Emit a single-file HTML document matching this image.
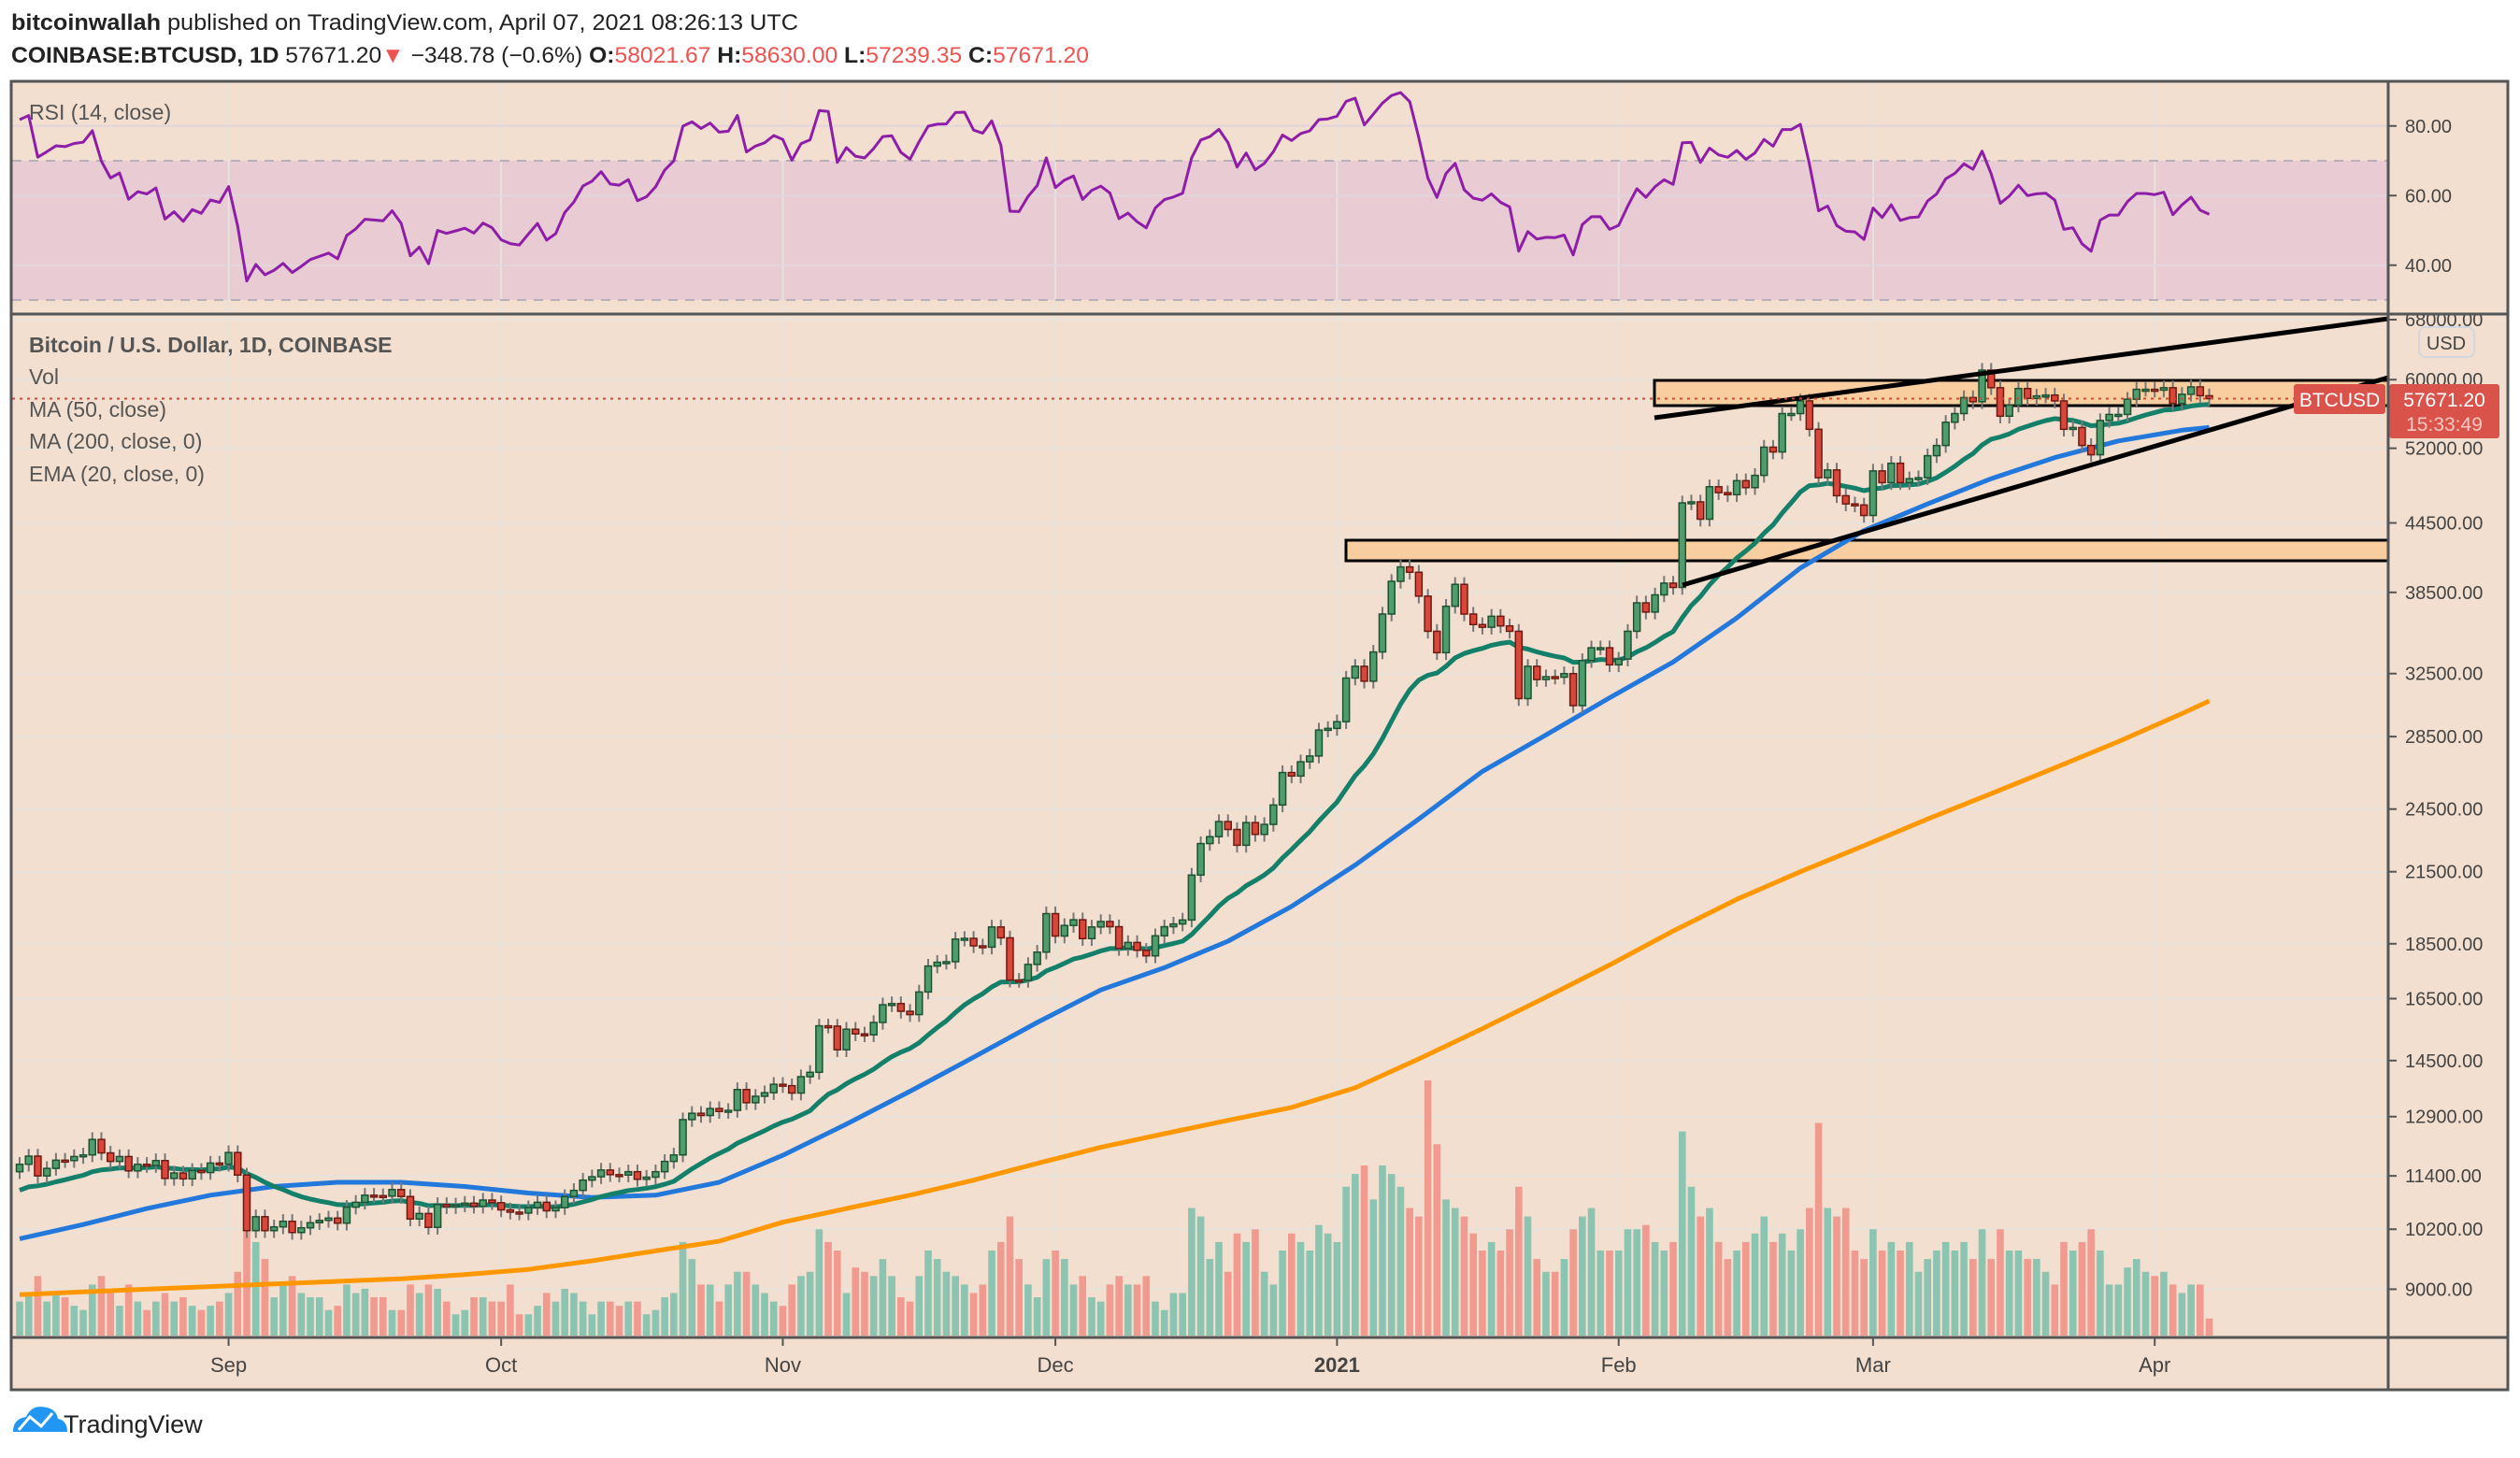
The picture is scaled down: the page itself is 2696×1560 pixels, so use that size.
<!DOCTYPE html>
<html><head><meta charset="utf-8"><style>
html,body{margin:0;padding:0;background:#fff;}
svg{display:block;font-family:"Liberation Sans",sans-serif;}
</style></head><body>
<svg id="chart" width="2696" height="1560" viewBox="0 0 2696 1560" xmlns="http://www.w3.org/2000/svg">
<rect x="0" y="0" width="2696" height="1560" fill="#ffffff"/>
<text x="12" y="32" font-size="24" fill="#222" textLength="842" lengthAdjust="spacingAndGlyphs"><tspan font-weight="bold">bitcoinwallah</tspan> published on TradingView.com, April 07, 2021 08:26:13 UTC</text>
<text x="12" y="67" font-size="24" fill="#222" textLength="1153" lengthAdjust="spacingAndGlyphs"><tspan font-weight="bold">COINBASE:BTCUSD, 1D</tspan> 57671.20<tspan fill="#ef5350">▼</tspan> −348.78 (−0.6%) <tspan font-weight="bold">O:</tspan><tspan fill="#ef5350">58021.67</tspan> <tspan font-weight="bold">H:</tspan><tspan fill="#ef5350">58630.00</tspan> <tspan font-weight="bold">L:</tspan><tspan fill="#ef5350">57239.35</tspan> <tspan font-weight="bold">C:</tspan><tspan fill="#ef5350">57671.20</tspan></text>
<rect x="12" y="87" width="2671" height="1400" fill="#f2dfcf"/>
<rect x="12" y="172" width="2543" height="149" fill="#e8cbd3"/>
<g id="grid"></g>
<g id="zones"></g>
<g id="vol"></g>
<g id="lines"></g>
<g id="candles"></g>
<g id="overlays"></g>
<g id="axes"></g>
<rect x="12" y="87" width="2671" height="1400" fill="none" stroke="#555" stroke-width="3"/>
<line x1="12" y1="336" x2="2683" y2="336" stroke="#555" stroke-width="3"/>
<line x1="2555" y1="87" x2="2555" y2="1487" stroke="#555" stroke-width="3"/>
<line x1="12" y1="1431" x2="2683" y2="1431" stroke="#555" stroke-width="3"/>
<text x="31" y="128" font-size="23" fill="#555">RSI (14, close)</text>
<text x="31" y="377" font-size="23" font-weight="bold" fill="#555">Bitcoin / U.S. Dollar, 1D, COINBASE</text>
<text x="31" y="411" font-size="23" fill="#555">Vol</text>
<text x="31" y="446" font-size="23" fill="#555">MA (50, close)</text>
<text x="31" y="480" font-size="23" fill="#555">MA (200, close, 0)</text>
<text x="31" y="515" font-size="23" fill="#555">EMA (20, close, 0)</text>
<g>
<path d="M14 1532 q0-14 14-16 q6-14 22-10 q10 2 12 12 q10 2 10 14 z" fill="#2196f3"/>
<polyline points="20,1530 32,1516 44,1526 56,1512" fill="none" stroke="#fff" stroke-width="3"/>
<text x="68" y="1533" font-size="27" fill="#222">TradingView</text>
</g>
</svg>
<script>
const closeAug=[11680,11880,11400,11580,11780,11770,11870,11910,12300,11960,11750,11870,11520,11680,11650,11770,11340,11470,11330,11530,11480,11710,11680];
const closeSep=[11970,11420,10170,10470,10170,10250,10370,10130,10230,10340,10390,10440,10330,10680,10790,10950,10940,10930,11080,10920,10420,10540,10240,10740,10690,10730,10770,10700,10840,10780];
const closeOct=[10620,10570,10550,10670,10790,10600,10670,10920,11060,11300,11380,11540,11430,11420,11500,11320,11370,11500,11750,11910,12820,12990,12930,13120,13040,13070,13650,13280,13460,13560,13800];
const closeNov=[13760,13550,14020,14150,15590,15580,14830,15480,15330,15300,15700,16290,16330,16070,15960,16730,17660,17800,17820,18680,18710,18420,18370,19160,18730,17150,17140,17720,18180,19700];
const closeDec=[18800,19220,19450,18700,19160,19380,19170,18320,18550,18250,18040,18810,19170,19280,19440,21350,22800,23130,23870,23480,22720,23820,23240,23730,24710,26440,26250,27040,27370,28890,28990];
const closeJan=[29400,32200,33000,31990,34000,36800,39400,40600,40150,38200,35500,33950,37400,39150,36800,36000,35800,36630,35900,35500,30850,33000,32100,32290,32260,32500,30400,33400,34300,34300,33100];
const closeFeb=[33500,35500,37670,36950,38300,39250,38900,46400,46500,44850,47990,47400,47200,48600,47900,49140,52120,51600,55900,55900,57400,54100,48900,49700,47100,46300,46200,45200];
const closeMar=[49600,48400,50400,48400,48800,48900,51200,52300,54900,55900,57800,57300,61200,59000,55600,56900,58900,57700,58000,58100,57400,54100,54300,52300,51300,55100,55800,55800,57600,58800,58800];
const closeApr=[58700,59000,57100,58200,59100,58020,57671];
const volAug=[8,10,14,8,10,9,7,6,12,14,10,7,12,8,6,8,10,8,9,7,6,7,8];
const volSep=[10,15,28,22,18,9,12,14,10,9,9,6,7,12,10,11,9,9,6,6,12,10,12,11,8,5,6,9,9,8];
const volOct=[8,12,5,5,7,10,8,11,10,8,5,8,8,7,8,8,5,6,9,10,22,18,12,12,8,12,15,15,12,10,8];
const volNov=[7,12,14,15,25,22,20,10,16,15,14,18,14,9,8,14,20,18,15,14,12,10,12,20,22,28,18,12,9,18];
const volDec=[20,18,12,14,9,8,12,14,12,12,14,8,6,10,10,30,28,18,22,15,24,22,25,15,12,20,24,22,20,26,24];
const volJan=[22,35,38,40,32,40,38,35,30,28,60,45,32,30,28,24,20,22,20,25,35,28,18,15,15,18,25,28,30,20,20];
const volFeb=[20,25,25,26,22,20,22,48,35,28,30,22,18,20,22,24,28,22,24,20,25,30,50,30,28,30,20,18];
const volMar=[25,20,22,20,22,15,18,20,22,20,22,18,25,18,25,20,20,18,18,15,12,22,20,22,25,20,12,12,16,18,15];
const volApr=[14,15,12,10,12,12,4];
// weekly samples (every 7 days from Aug 9), last = Apr 7
const ma50Samples=[10000,10300,10650,10950,11150,11250,11250,11150,11000,10900,10950,11250,11900,12700,13600,14600,15700,16800,17600,18600,20000,21800,24000,26500,28600,30900,33300,36500,40500,43800,46300,48800,51000,52800,54000,54300];
const ma200Samples=[8900,8950,9000,9050,9100,9150,9200,9280,9380,9550,9750,9950,10350,10650,10950,11300,11700,12100,12450,12800,13150,13700,14550,15500,16550,17700,19000,20300,21500,22700,24000,25300,26700,28200,29900,30700];
const priceTicks=[68000,60000,52000,44500,38500,32500,28500,24500,21500,18500,16500,14500,12900,11400,10200,9000];
const rsiTicks=[80,60,40];
const monthLabels=["Sep","Oct","Nov","Dec","2021","Feb","Mar","Apr"];
const monthIdx=[23,53,84,114,145,176,204,235];
const emaSeed=11000, firstOpen=11500;

const closes=[].concat(closeAug,closeSep,closeOct,closeNov,closeDec,closeJan,closeFeb,closeMar,closeApr);
const vols=[].concat(volAug,volSep,volOct,volNov,volDec,volJan,volFeb,volMar,volApr);
const NS="http://www.w3.org/2000/svg";
const X0=21, DX=9.72;
const xOf=i=>X0+i*DX;
const yP=p=>342+513*Math.log(68000/p);
const yR=v=>172+(70-v)*3.725;
const yV=v=>1429-v*4.55;
function mk(tag,attrs,parent){const e=document.createElementNS(NS,tag);for(const k in attrs)e.setAttribute(k,attrs[k]);parent.appendChild(e);return e;}
const G=id=>document.getElementById(id);

const grid=G('grid');
monthIdx.forEach(i=>{
 const l=mk('line',{x1:xOf(i),y1:88,x2:xOf(i),y2:1430,stroke:'#e8e2dc','stroke-width':2},grid);
 
 
});
priceTicks.forEach(p=>{
 const l=mk('line',{x1:13,y1:yP(p),x2:2555,y2:yP(p),stroke:'#e8e2dc','stroke-width':2},grid);
 
 
});
rsiTicks.forEach(v=>{
 const l=mk('line',{x1:13,y1:yR(v),x2:2555,y2:yR(v),stroke:'#e2d6dc','stroke-width':2},grid);
 
 
});
[70,30].forEach(v=>{
 const l=mk('line',{x1:13,y1:yR(v),x2:2555,y2:yR(v),stroke:'#b8b0b8','stroke-width':2,'stroke-dasharray':'10 8'},grid);
 
 
});

const zg=G('zones');
const zu=mk('rect',{x:1770,y:407,width:785,height:27,fill:'#f8cd9f',stroke:'#000','stroke-width':3},zg);


const zl=mk('rect',{x:1440,y:578,width:1115,height:22,fill:'#f8cd9f',stroke:'#000','stroke-width':3},zg);



const opens=closes.map((c,i)=>i===0?firstOpen:closes[i-1]);
const vg=G('vol');
vols.forEach((v,i)=>{
 const up=closes[i]>=opens[i];
 const r=mk('rect',{x:xOf(i)-3.8,y:yV(v),width:7.6,height:1429-yV(v),fill:up?'#8cc4b2':'#f19a90'},vg);
 
 
});

const lg=G('lines');
function poly(pts,color,w,name){const p=mk('polyline',{points:pts.map(q=>q[0].toFixed(1)+','+q[1].toFixed(1)).join(' '),fill:'none',stroke:color,'stroke-width':w,'stroke-linejoin':'round'},lg);
 
 }
const sampleIdx=a=>a.map((v,k)=>k===a.length-1?closes.length-1:k*7);
const ma200Idx=sampleIdx(ma200Samples);
poly(ma200Samples.map((v,k)=>[xOf(ma200Idx[k]),yP(v)]),'#ff9800',5,'ma200-line');
const ma50Idx=sampleIdx(ma50Samples);
poly(ma50Samples.map((v,k)=>[xOf(ma50Idx[k]),yP(v)]),'#2378db',5,'ma50-line');
let ema=emaSeed;const emaPts=[];const a=2/21;
closes.forEach((c,i)=>{ema=ema+a*(c-ema);emaPts.push([xOf(i),yP(ema)]);});
poly(emaPts,'#15806a',5,'ema20-line');
let ag=0,al=0;const rsiPts=[];
closes.forEach((c,i)=>{
 const d=c-opens[i];const g=Math.max(d,0),l=Math.max(-d,0);
 if(i===0){ag=g||60;al=l||40;}else{ag=(ag*13+g)/14;al=(al*13+l)/14;}
 const r=al===0?100:100-100/(1+ag/al);
 rsiPts.push([xOf(i),yR(r)]);
});
poly(rsiPts,'#8e1ea8',3,'rsi-line');

const cg=G('candles');
closes.forEach((c,i)=>{
 const o=opens[i],up=c>=o,hi=Math.max(o,c)*1.015,lo=Math.min(o,c)*0.985;
 const x=xOf(i);
 const w=mk('line',{x1:x,y1:yP(hi),x2:x,y2:yP(lo),stroke:'#777','stroke-width':2},cg);
 
 
 const top=yP(Math.max(o,c)),bot=yP(Math.min(o,c));
 const b=mk('rect',{x:x-3.5,y:top,width:7,height:Math.max(bot-top,2),fill:up?'#4f9c6c':'#d9473a',stroke:up?'#1d5233':'#6e1a12','stroke-width':1.5},cg);
 
 
});

const og=G('overlays');
const t1=mk('line',{x1:1770,y1:447,x2:2555,y2:341,stroke:'#000','stroke-width':5},og);


const t2=mk('line',{x1:1800,y1:626,x2:2555,y2:404,stroke:'#000','stroke-width':5},og);


const pl=mk('line',{x1:13,y1:yP(57671),x2:2555,y2:yP(57671),stroke:'#e0402e','stroke-width':2,'stroke-dasharray':'3 5'},og);



const ax=G('axes');
priceTicks.forEach(p=>{
 const y=yP(p);
 const tk=mk('line',{x1:2556,y1:y,x2:2564,y2:y,stroke:'#555','stroke-width':2},ax);
 
 
 const t=mk('text',{x:2573,y:y+7,'font-size':20,fill:'#444'},ax);
 t.textContent=p.toFixed(2);
 
 
});
rsiTicks.forEach(v=>{
 const y=yR(v);
 const tk=mk('line',{x1:2556,y1:y,x2:2564,y2:y,stroke:'#555','stroke-width':2},ax);
 
 
 const t=mk('text',{x:2573,y:y+7,'font-size':20,fill:'#444'},ax);
 t.textContent=v.toFixed(2);
 
 
});
monthLabels.forEach((m,k)=>{
 const x=xOf(monthIdx[k]);
 const tk=mk('line',{x1:x,y1:1432,x2:x,y2:1440,stroke:'#555','stroke-width':2},ax);
 
 
 const t=mk('text',{x:x,y:1468,'font-size':22,fill:'#444','text-anchor':'middle','font-weight':m==='2021'?'bold':'normal'},ax);
 t.textContent=m;
 
 
});
const usd=mk('rect',{x:2588,y:350,width:59,height:32,rx:7,fill:'none',stroke:'#d3d8e0','stroke-width':2},ax);


const usdT=mk('text',{x:2617,y:374,'font-size':20,fill:'#444','text-anchor':'middle'},ax);
usdT.textContent='USD';


const sb=mk('rect',{x:2454,y:411,width:98,height:32,rx:3,fill:'#d9534a'},ax);


const sbt=mk('text',{x:2503,y:435,'font-size':21,fill:'#fff','text-anchor':'middle'},ax);
sbt.textContent='BTCUSD';


const pb=mk('rect',{x:2556,y:411,width:118,height:58,rx:3,fill:'#d9534a'},ax);


const pbt=mk('text',{x:2615,y:435,'font-size':21,fill:'#fff','text-anchor':'middle'},ax);
pbt.textContent='57671.20';


const cd=mk('text',{x:2615,y:461,'font-size':21,fill:'#f6c8c2','text-anchor':'middle'},ax);
cd.textContent='15:33:49';


</script>
</body></html>
